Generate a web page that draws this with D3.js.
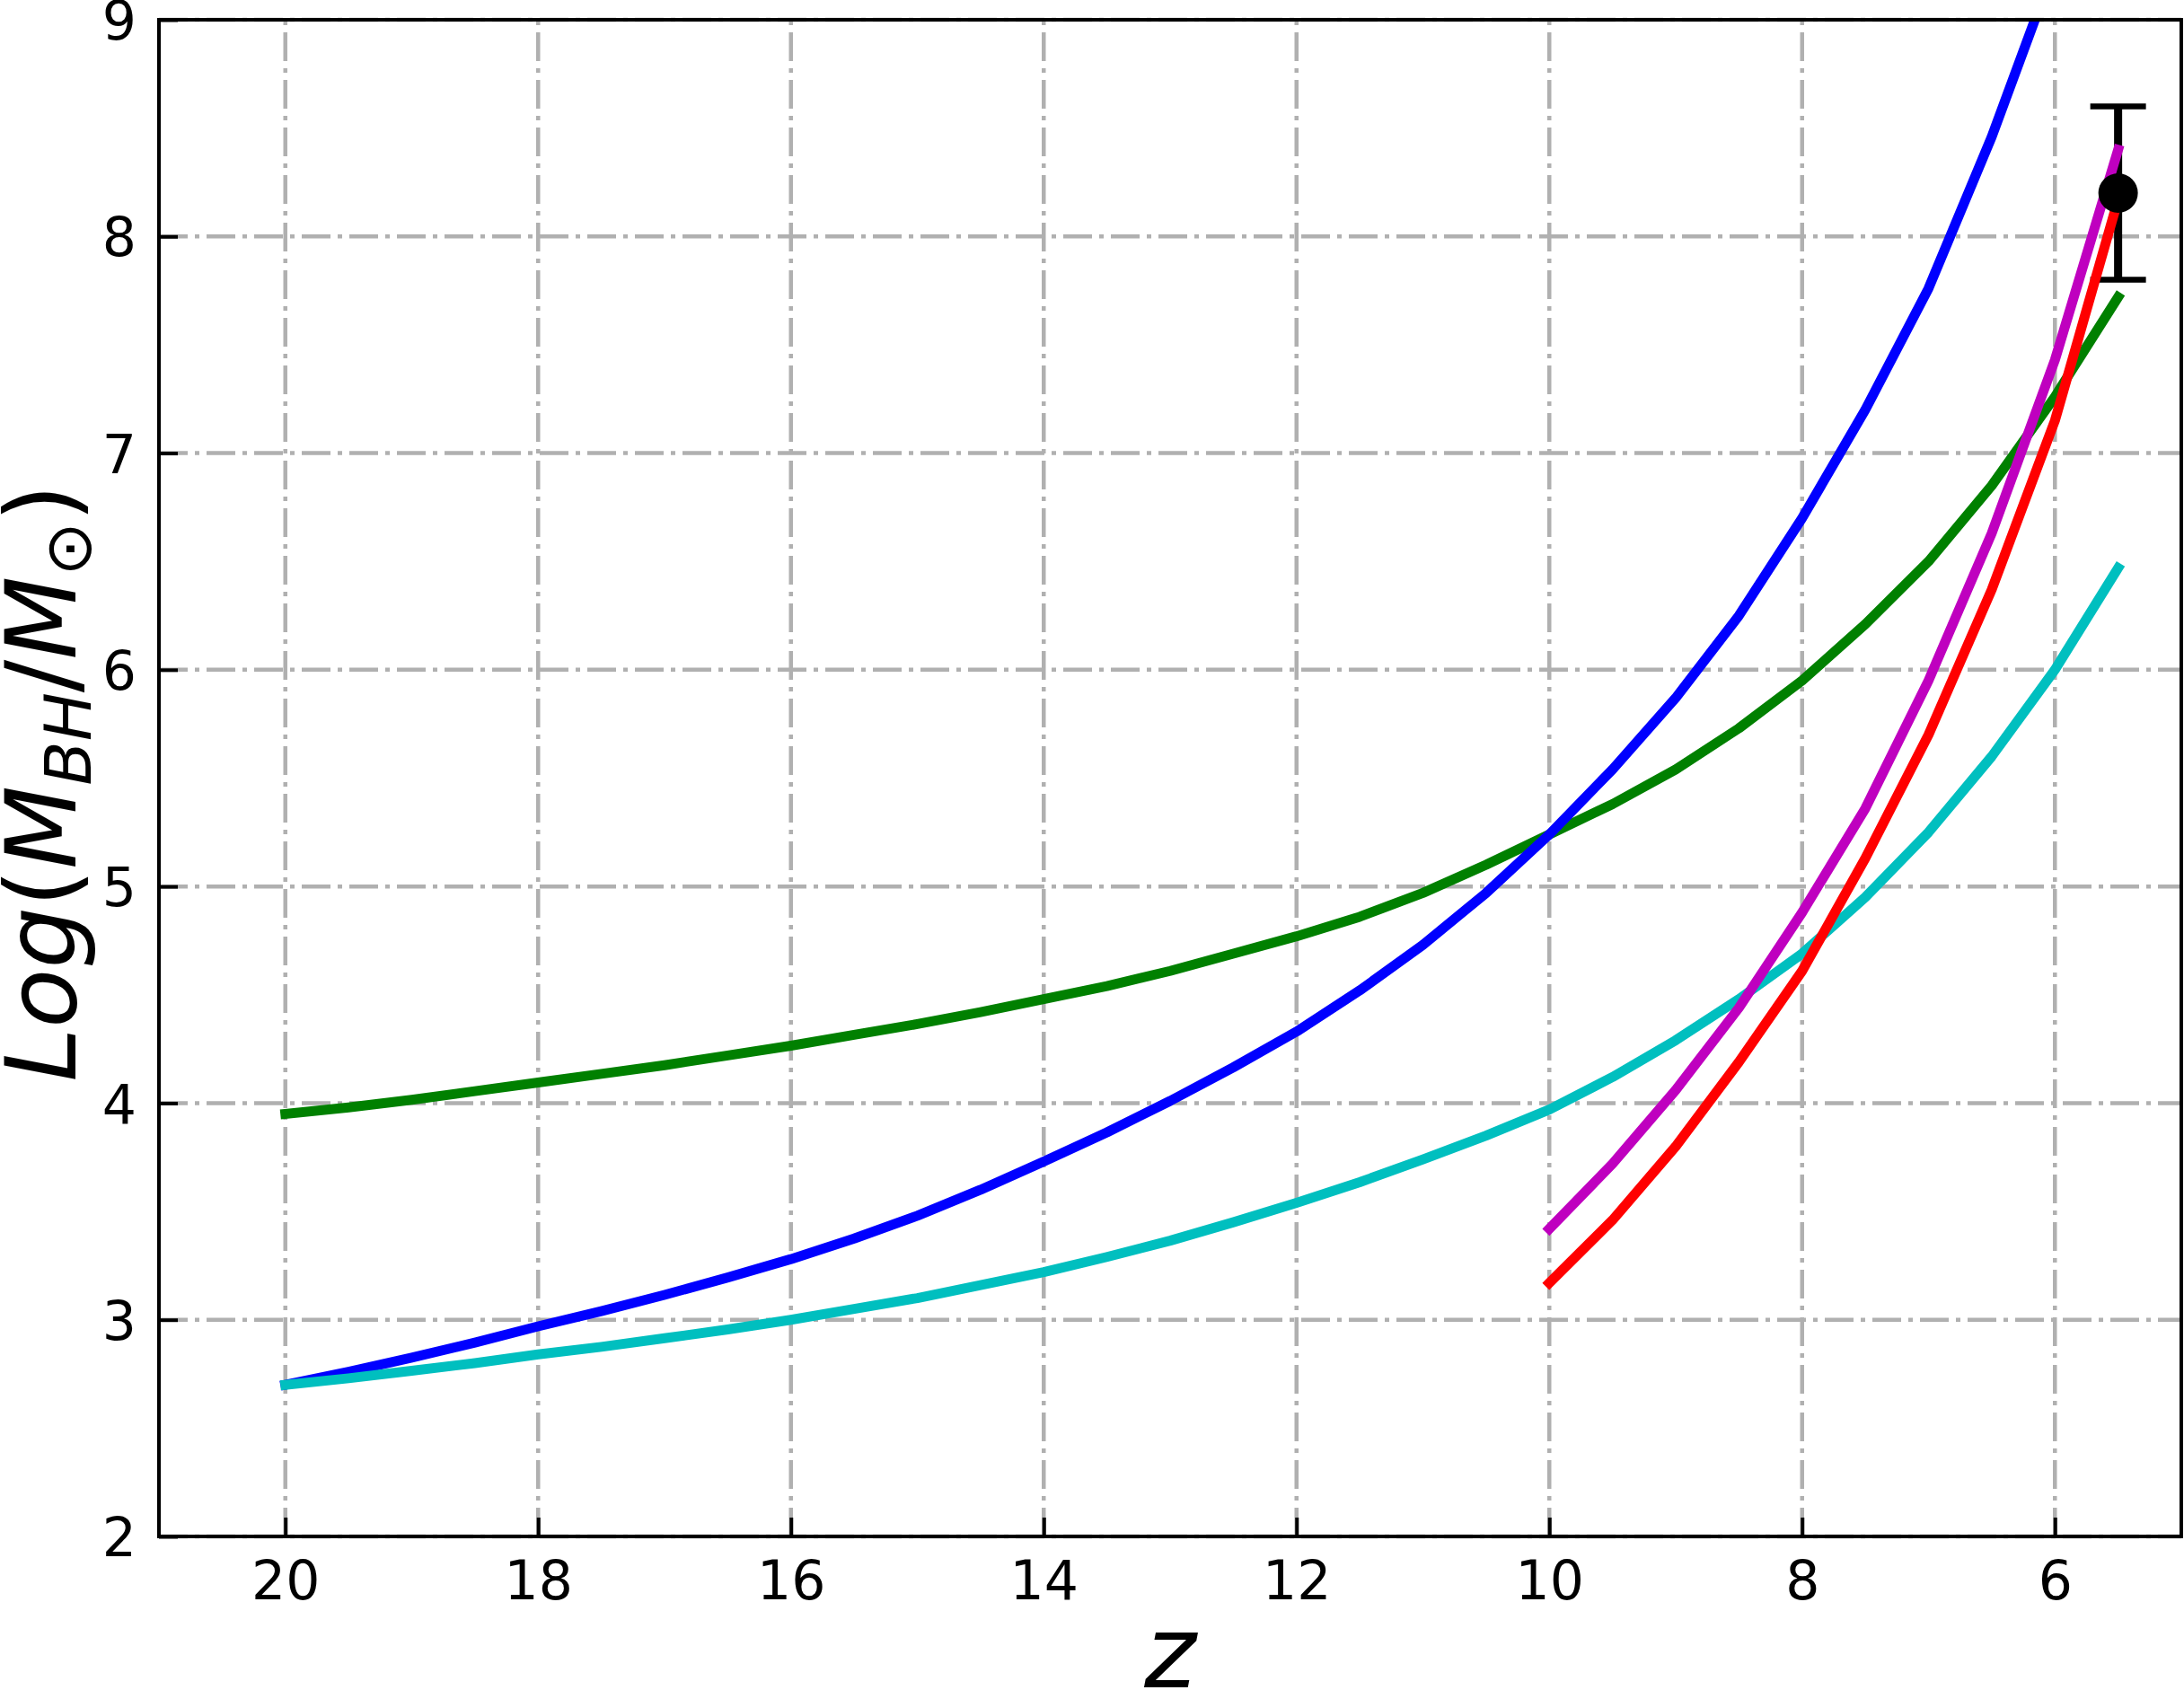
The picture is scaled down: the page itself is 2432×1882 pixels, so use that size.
<!DOCTYPE html>
<html><head><meta charset="utf-8">
<script src="https://cdn.jsdelivr.net/npm/d3@7"></script>
<style>
html,body{margin:0;padding:0;background:#fff;}
text{font-family:"DejaVu Sans";}
</style>
</head><body>
<svg id="chart" width="2432" height="1882"></svg>
<script>
// redshift grids
const zFull = [20,19.5,19,18.5,18,17.5,17,16.5,16,15.5,15,14.5,14,13.5,13,12.5,12,11.5,11,10.5,10,9.5,9,8.5,8,7.5,7,6.5,6,5.5];
const zLate = [10,9.5,9,8.5,8,7.5,7,6.5,6,5.5];
// Log(M_BH/M_sun) series
const greenVals = [3.95,3.98,4.015,4.055,4.095,4.135,4.175,4.22,4.265,4.315,4.365,4.42,4.48,4.54,4.61,4.69,4.77,4.86,4.97,5.10,5.24,5.38,5.54,5.73,5.95,6.21,6.50,6.85,7.26,7.72];
const blueVals  = [2.70,2.76,2.825,2.895,2.97,3.04,3.115,3.195,3.28,3.375,3.48,3.60,3.73,3.865,4.01,4.165,4.33,4.52,4.73,4.97,5.24,5.54,5.87,6.25,6.70,7.20,7.76,8.46,9.25,10.2];
const cyanVals  = [2.70,2.73,2.765,2.80,2.84,2.875,2.915,2.955,3.00,3.05,3.10,3.16,3.22,3.29,3.365,3.45,3.54,3.635,3.74,3.85,3.97,4.12,4.29,4.48,4.69,4.95,5.25,5.60,6.00,6.47];
const magentaVals = [3.42,3.72,4.06,4.44,4.88,5.36,5.95,6.63,7.43,8.40];
const redVals     = [3.17,3.46,3.80,4.19,4.61,5.13,5.70,6.37,7.15,8.17];
// observed point
const obsZ = [5.5];
const obsV = [8.2];
const obsErr = [0.4];
// ticks
const xTicks = [20,18,16,14,12,10,8,6];
const yTicks = [2,3,4,5,6,7,8,9];

const series = [
  {z: zFull, v: greenVals, color: "#008000"},
  {z: zFull, v: blueVals, color: "#0000ff"},
  {z: zFull, v: cyanVals, color: "#00bfbf"},
  {z: zLate, v: magentaVals, color: "#bf00bf"},
  {z: zLate, v: redVals, color: "#ff0000"}
];

const L = 177, R = 2429, T = 22, B = 1711;
const svg = d3.select("#chart");
const x = d3.scaleLinear().domain([21,5]).range([L,R]);
const y = d3.scaleLinear().domain([2,9]).range([B,T]);

svg.append("defs").append("clipPath").attr("id","clip")
  .append("rect").attr("x",L).attr("y",T).attr("width",R-L).attr("height",B-T);

// grid
const grid = svg.append("g").attr("stroke","#b0b0b0").attr("stroke-width",4.5)
  .attr("stroke-dasharray","32,8,5,8").attr("fill","none");
grid.selectAll("line.v").data(xTicks).join("line").attr("class","v")
  .attr("x1",d=>x(d)).attr("x2",d=>x(d)).attr("y1",B).attr("y2",T);
grid.selectAll("line.h").data(yTicks).join("line").attr("class","h")
  .attr("x1",L).attr("x2",R).attr("y1",d=>y(d)).attr("y2",d=>y(d));

// error bars (drawn beneath curves)
const eb = svg.append("g").attr("stroke","#000");
obsZ.forEach((z,i)=>{
  eb.append("line").attr("x1",x(z)).attr("x2",x(z))
    .attr("y1",y(obsV[i]-obsErr[i])).attr("y2",y(obsV[i]+obsErr[i])).attr("stroke-width",9);
  [obsV[i]-obsErr[i], obsV[i]+obsErr[i]].forEach(v=>{
    eb.append("line").attr("x1",x(z)-31).attr("x2",x(z)+31)
      .attr("y1",y(v)).attr("y2",y(v)).attr("stroke-width",6.5);
  });
});

// curves
const line = d3.line().x(d=>x(d[0])).y(d=>y(d[1]));
const cg = svg.append("g").attr("clip-path","url(#clip)");
series.forEach(s=>{
  cg.append("path").datum(s.z.map((z,i)=>[z,s.v[i]]))
    .attr("d",line).attr("fill","none").attr("stroke",s.color)
    .attr("stroke-width",11).attr("stroke-linejoin","round").attr("stroke-linecap","square");
});

// marker
svg.selectAll("circle.obs").data(obsZ).join("circle").attr("class","obs")
  .attr("cx",d=>x(d)).attr("cy",(d,i)=>y(obsV[i])).attr("r",22).attr("fill","#000");

// axes
const xAxis = d3.axisBottom(x).tickValues(xTicks).tickSize(-21).tickPadding(27).tickFormat(d3.format("d"));
const yAxis = d3.axisLeft(y).tickValues(yTicks).tickSize(-21).tickPadding(25).tickFormat(d3.format("d"));
const gx = svg.append("g").attr("transform",`translate(0,${B})`).call(xAxis);
const gy = svg.append("g").attr("transform",`translate(${L},0)`).call(yAxis);
[gx,gy].forEach(g=>{
  g.select(".domain").remove();
  g.selectAll(".tick line").attr("stroke","#000").attr("stroke-width",4);
  g.selectAll(".tick text").attr("fill","#000").style("font-family","DejaVu Sans").attr("font-size",60);
});
gy.selectAll(".tick text").attr("dy","0.36em");

// frame
svg.append("rect").attr("x",L).attr("y",T).attr("width",R-L).attr("height",B-T)
  .attr("fill","none").attr("stroke","#000").attr("stroke-width",4);

// x label
svg.append("text").attr("x",(L+R)/2).attr("y",1879).attr("text-anchor","middle")
  .attr("font-size",110).attr("font-style","italic").text("z");

// y label
const yl = svg.append("text").attr("transform",`translate(84,${872}) rotate(-90)`)
  .attr("text-anchor","middle").attr("font-size",108);
yl.append("tspan").attr("font-style","italic").text("Log");
yl.append("tspan").text("(");
yl.append("tspan").attr("font-style","italic").text("M");
yl.append("tspan").attr("font-style","italic").attr("font-size",72).attr("dy",17).text("BH");
yl.append("tspan").attr("dy",-17).text("/");
yl.append("tspan").attr("font-style","italic").text("M");
yl.append("tspan").attr("font-size",72).attr("dy",17).text("⊙");
yl.append("tspan").attr("dy",-17).text(")");
</script>
</body></html>
